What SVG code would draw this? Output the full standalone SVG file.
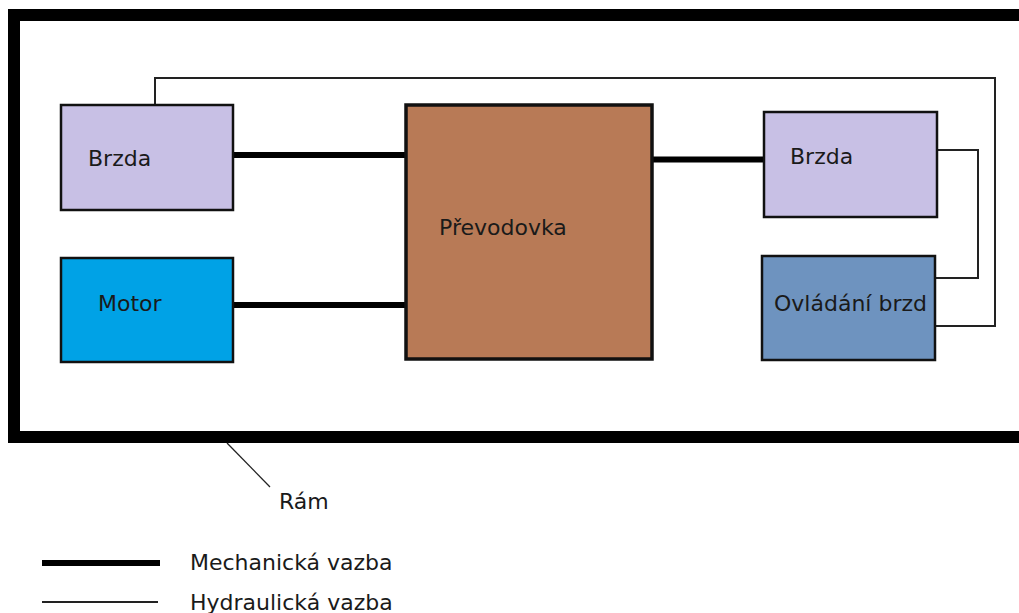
<svg xmlns="http://www.w3.org/2000/svg" width="1019" height="613" viewBox="0 0 1019 613">
  <style>
    .box { stroke: #111; stroke-width: 2.5; }
    .label { font-family: "DejaVu Sans", "Liberation Sans", sans-serif; font-size: 22px; fill: #1a1a1a; }
    .mech { stroke: #000; stroke-width: 6; fill: none; }
    .hydr { stroke: #222; stroke-width: 2; fill: none; }
  </style>
  <rect width="1019" height="613" fill="#fff"/>

  <!-- frame (Rám) -->
  <g id="frame">
    <rect x="14" y="15" width="1020" height="422" fill="none" stroke="#000" stroke-width="12"/>
    <line x1="227" y1="443" x2="270" y2="487" stroke="#222" stroke-width="1.3"/>
    <text class="label" x="279" y="509">Rám</text>
  </g>

  <!-- connectors -->
  <g id="connectors">
    <line class="mech" x1="233" y1="155" x2="406" y2="155"/>
    <line class="mech" x1="233" y1="305" x2="406" y2="305"/>
    <line class="mech" x1="652" y1="159.5" x2="764" y2="159.5"/>
    <path class="hydr" d="M937,150 H978 V278 H935"/>
    <path class="hydr" d="M935,326 H995 V78 H155 V105"/>
  </g>

  <g id="brzda-left">
    <rect class="box" x="61" y="105" width="172" height="105" fill="#C8C0E5"/>
    <text class="label" x="88" y="166">Brzda</text>
  </g>

  <g id="motor">
    <rect class="box" x="61" y="258" width="172" height="104" fill="#00A2E6"/>
    <text class="label" x="98" y="311">Motor</text>
  </g>

  <g id="prevodovka">
    <rect x="406" y="105" width="246" height="254" fill="#B87A56" stroke="#111" stroke-width="3.5"/>
    <text class="label" x="439" y="235">Převodovka</text>
  </g>

  <g id="brzda-right">
    <rect class="box" x="764" y="112" width="173" height="105" fill="#C8C0E5"/>
    <text class="label" x="790" y="164">Brzda</text>
  </g>

  <g id="ovladani-brzd">
    <rect class="box" x="762" y="256" width="173" height="104" fill="#6E93BF"/>
    <text class="label" x="774" y="311">Ovládání brzd</text>
  </g>

  <!-- legend -->
  <g id="legend">
    <line x1="42" y1="563" x2="160" y2="563" stroke="#000" stroke-width="6"/>
    <text class="label" x="190" y="570">Mechanická vazba</text>
    <line x1="42" y1="602" x2="158" y2="602" stroke="#222" stroke-width="2"/>
    <text class="label" x="190" y="610">Hydraulická vazba</text>
  </g>
</svg>
